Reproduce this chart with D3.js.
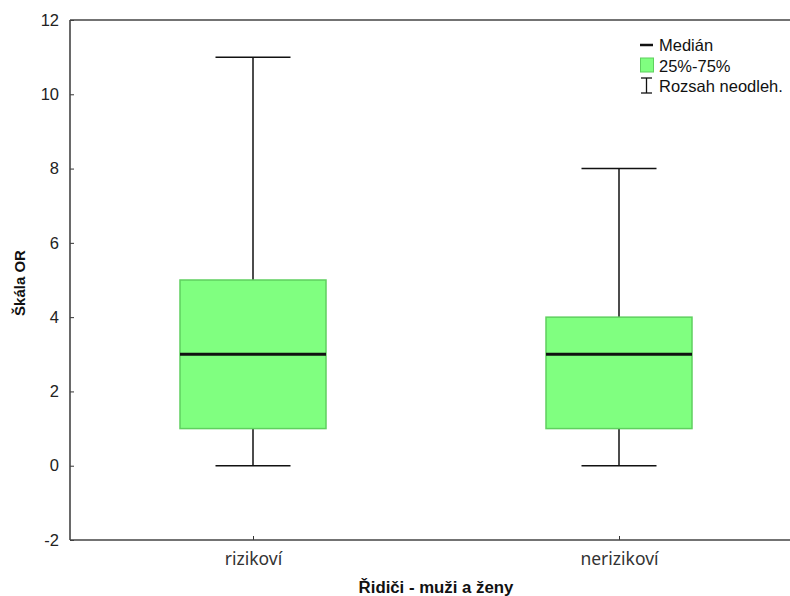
<!DOCTYPE html>
<html>
<head>
<meta charset="utf-8">
<script src="https://cdn.jsdelivr.net/npm/d3@7"></script>
<style>
  html, body { margin: 0; padding: 0; background: #fff; }
  svg { display: block; }
</style>
</head>
<body>
<svg id="chart" width="790" height="596"></svg>
<script>
// Box plot data: Škála OR by driver group
const categories = ["rizikoví", "nerizikoví"];
const mins       = [0, 0];
const q1s        = [1, 1];
const medians    = [3, 3];
const q3s        = [5, 4];
const maxs       = [11, 8];
const yTicks     = [-2, 0, 2, 4, 6, 8, 10, 12];
const legendLabels = ["Medián", "25%-75%", "Rozsah neodleh."];

const svg = d3.select("#chart");
const plotLeft = 70, plotTop = 20, plotBottom = 540, plotRightExt = 802;

const y = d3.scaleLinear().domain([-2, 12]).range([plotBottom, plotTop]);
const x = d3.scalePoint().domain(categories).range([plotLeft, plotRightExt]).padding(0.5);
const boxW = 146, capW = 75;

const tickFont = "'Liberation Sans', Arial, sans-serif";

// Y axis (ticks point inward, plain hyphen for negatives)
const yAxis = d3.axisLeft(y).tickValues(yTicks).tickSize(-4).tickPadding(11)
  .tickFormat(d => String(d));
const gy = svg.append("g").attr("transform", `translate(${plotLeft},0)`).call(yAxis);
gy.select(".domain").remove();
gy.selectAll(".tick line").attr("stroke", "#333").attr("stroke-width", 1);
gy.selectAll(".tick text")
  .attr("font-family", tickFont).attr("font-size", 16.5).attr("fill", "#222");

// X axis
const xAxis = d3.axisBottom(x).tickSize(-4).tickPadding(13);
const gx = svg.append("g").attr("transform", `translate(0,${plotBottom})`).call(xAxis);
gx.select(".domain").remove();
gx.selectAll(".tick line").attr("stroke", "#333").attr("stroke-width", 1);
gx.selectAll(".tick text")
  .attr("font-family", "'Noto Sans', 'Open Sans', sans-serif").attr("font-size", 17.5).attr("fill", "#333");

// Frame: left, top, bottom
const frame = svg.append("g").attr("stroke", "#444").attr("stroke-width", 1.6).attr("fill", "none");
frame.append("line").attr("x1", plotLeft).attr("x2", plotLeft).attr("y1", plotTop).attr("y2", plotBottom);
frame.append("line").attr("x1", plotLeft).attr("x2", 790).attr("y1", plotTop).attr("y2", plotTop);
frame.append("line").attr("x1", plotLeft).attr("x2", 790).attr("y1", plotBottom).attr("y2", plotBottom);

// Boxes
const data = categories.map((c, i) => ({ c, min: mins[i], q1: q1s[i], med: medians[i], q3: q3s[i], max: maxs[i] }));
const g = svg.append("g").selectAll("g").data(data).join("g")
  .attr("transform", d => `translate(${x(d.c)},0)`);

// whiskers
g.append("line").attr("x1", 0).attr("x2", 0).attr("y1", d => y(d.q3)).attr("y2", d => y(d.max))
  .attr("stroke", "#111").attr("stroke-width", 1.5);
g.append("line").attr("x1", 0).attr("x2", 0).attr("y1", d => y(d.q1)).attr("y2", d => y(d.min))
  .attr("stroke", "#111").attr("stroke-width", 1.5);
g.append("line").attr("x1", -capW / 2).attr("x2", capW / 2).attr("y1", d => y(d.max)).attr("y2", d => y(d.max))
  .attr("stroke", "#111").attr("stroke-width", 1.5);
g.append("line").attr("x1", -capW / 2).attr("x2", capW / 2).attr("y1", d => y(d.min)).attr("y2", d => y(d.min))
  .attr("stroke", "#111").attr("stroke-width", 1.5);

// box
g.append("rect").attr("x", -boxW / 2).attr("width", boxW)
  .attr("y", d => y(d.q3)).attr("height", d => y(d.q1) - y(d.q3))
  .attr("fill", "#80ff80").attr("stroke", "#5fd05f").attr("stroke-width", 1.5);

// median
g.append("line").attr("x1", -boxW / 2).attr("x2", boxW / 2).attr("y1", d => y(d.med)).attr("y2", d => y(d.med))
  .attr("stroke", "#111").attr("stroke-width", 3);

// Axis titles
svg.append("text").attr("x", 436).attr("y", 593).attr("text-anchor", "middle")
  .attr("font-family", "'Liberation Sans Narrow', 'Liberation Sans', Arial, sans-serif")
  .attr("font-weight", "bold").attr("font-size", 16.8).attr("fill", "#111")
  .text("Řidiči - muži a ženy");
svg.append("text").attr("transform", "translate(25,283) rotate(-90)").attr("text-anchor", "middle")
  .attr("font-family", "'Liberation Sans', Arial, sans-serif")
  .attr("font-weight", "bold").attr("font-size", 15).attr("fill", "#111")
  .text("Škála OR");

// Legend
const lg = svg.append("g").attr("transform", "translate(640,0)");
const lfont = { family: "'Liberation Sans', Arial, sans-serif", size: 16.5 };
lg.append("line").attr("x1", 0).attr("x2", 13).attr("y1", 45).attr("y2", 45)
  .attr("stroke", "#111").attr("stroke-width", 2.5);
lg.append("rect").attr("x", 0.5).attr("y", 58).attr("width", 13).attr("height", 14)
  .attr("fill", "#80ff80").attr("stroke", "#5fd05f").attr("stroke-width", 1);
const ib = lg.append("g").attr("stroke", "#111").attr("stroke-width", 1.3);
ib.append("line").attr("x1", 6.5).attr("x2", 6.5).attr("y1", 78).attr("y2", 93);
ib.append("line").attr("x1", 1).attr("x2", 12).attr("y1", 78).attr("y2", 78);
ib.append("line").attr("x1", 1).attr("x2", 12).attr("y1", 93).attr("y2", 93);
lg.selectAll("text.leg").data(legendLabels).join("text").attr("class", "leg")
  .attr("x", 19).attr("y", (d, i) => 51 + i * 20.5)
  .attr("font-family", lfont.family).attr("font-size", lfont.size).attr("fill", "#111")
  .text(d => d);
</script>
</body>
</html>
